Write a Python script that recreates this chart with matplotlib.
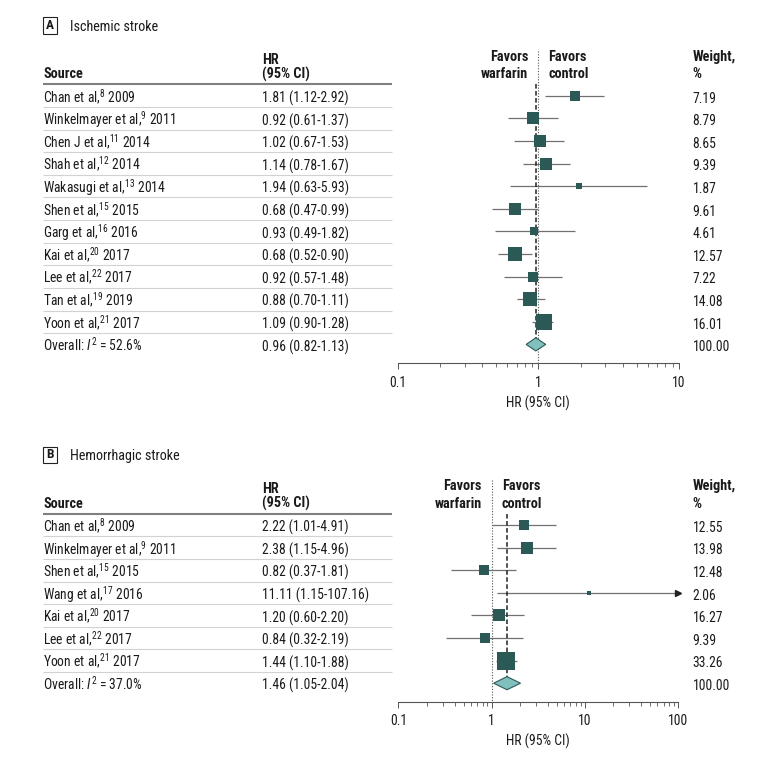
import matplotlib
matplotlib.use('Agg')
import matplotlib.pyplot as plt
import matplotlib.transforms as mtransforms
from matplotlib import font_manager as fm
from matplotlib.patches import Polygon, Rectangle
from matplotlib.ticker import LogLocator, NullFormatter
import numpy as np

names = {f.name for f in fm.fontManager.ttflist}
FONT = next((f for f in ['Roboto Condensed', 'Encode Sans Condensed', 'Liberation Sans'] if f in names),
            'DejaVu Sans')
plt.rcParams['font.family'] = [FONT, 'DejaVu Sans']
plt.rcParams['mathtext.fontset'] = 'custom'
plt.rcParams['mathtext.rm'] = FONT
plt.rcParams['mathtext.it'] = FONT + ':italic'

# ---- data: panel A, ischemic stroke ----
src_a = ['Chan et al,', 'Winkelmayer et al,', 'Chen J et al,', 'Shah et al,', 'Wakasugi et al,',
         'Shen et al,', 'Garg et al,', 'Kai et al,', 'Lee et al,', 'Tan et al,', 'Yoon et al,']
ref_a = [8, 9, 11, 12, 13, 15, 16, 20, 22, 19, 21]
year_a = [2009, 2011, 2014, 2014, 2014, 2015, 2016, 2017, 2017, 2019, 2017]
hr_a = [1.81, 0.92, 1.02, 1.14, 1.94, 0.68, 0.93, 0.68, 0.92, 0.88, 1.09]
lo_a = [1.12, 0.61, 0.67, 0.78, 0.63, 0.47, 0.49, 0.52, 0.57, 0.70, 0.90]
hi_a = [2.92, 1.37, 1.53, 1.67, 5.93, 0.99, 1.82, 0.90, 1.48, 1.11, 1.28]
wt_a = [7.19, 8.79, 8.65, 9.39, 1.87, 9.61, 4.61, 12.57, 7.22, 14.08, 16.01]
overall_a = [0.96, 0.82, 1.13]
i2_a = 52.6
total_a = 100.00
ticks_a = [0.1, 1, 10]
ticklabels_a = ['0.1', '1', '10']

# ---- data: panel B, hemorrhagic stroke ----
src_b = ['Chan et al,', 'Winkelmayer et al,', 'Shen et al,', 'Wang et al,', 'Kai et al,',
         'Lee et al,', 'Yoon et al,']
ref_b = [8, 9, 15, 17, 20, 22, 21]
year_b = [2009, 2011, 2015, 2016, 2017, 2017, 2017]
hr_b = [2.22, 2.38, 0.82, 11.11, 1.20, 0.84, 1.44]
lo_b = [1.01, 1.15, 0.37, 1.15, 0.60, 0.32, 1.10]
hi_b = [4.91, 4.96, 1.81, 107.16, 2.20, 2.19, 1.88]
wt_b = [12.55, 13.98, 12.48, 2.06, 16.27, 9.39, 33.26]
overall_b = [1.46, 1.05, 2.04]
i2_b = 37.0
total_b = 100.00
ticks_b = [0.1, 1, 10, 100]
ticklabels_b = ['0.1', '1', '10', '100']

W, H = 780, 757
ROW = 22.6
FS = 9.8       # row text
FSH = 10.3     # bold headers
TXT = '#1a1a1a'
SQ = '#2b5956'
DIA = '#80c0bd'
CI = '#707070'

fig = plt.figure(figsize=(W / 100, H / 100), dpi=100)


def px(x):
    return x / W


def panel(letter, title, src, ref, year, hr, lo, hi, wt, overall, i2, total,
          ticks, ticklabels, row0, xl, xr, k):
    n = len(hr) + 1
    top_v, bot_v = -2.47, n - 1 + 0.83
    ytop = row0 + top_v * ROW
    ybot = row0 + bot_v * ROW
    ax = fig.add_axes([px(xl), 1 - ybot / H, px(xr - xl), (ybot - ytop) / H])
    ax.set_xscale('log')
    ax.set_xlim(ticks[0], ticks[-1])
    ax.set_ylim(bot_v, top_v)
    ax.patch.set_alpha(0)
    for s in ['left', 'right', 'top']:
        ax.spines[s].set_visible(False)
    ax.spines['bottom'].set_color('#555555')
    ax.spines['bottom'].set_linewidth(0.8)
    ax.set_yticks([])
    ax.set_xticks(ticks)
    ax.set_xticklabels(ticklabels)
    ax.xaxis.set_minor_locator(LogLocator(base=10, subs=np.arange(2, 10)))
    ax.xaxis.set_minor_formatter(NullFormatter())
    ax.tick_params(axis='x', which='major', length=4, width=0.7, color='#555555',
                   labelsize=FS, labelcolor=TXT, pad=5)
    ax.tick_params(axis='x', which='minor', length=3, width=0.6, color='#555555')
    ax.set_xlabel('HR (95% CI)', fontsize=FS, color=TXT, labelpad=4)

    y = np.arange(len(hr))
    xmax = ticks[-1]
    hi_c = np.minimum(hi, xmax)
    ax.hlines(y, lo, hi_c, color=CI, lw=0.9, zorder=2)
    for yi, h in zip(y, hi):
        if h > xmax:
            ax.plot(xmax, yi, marker='>', ms=4, color='#222222', clip_on=False, zorder=3)
    for xi, yi, w in zip(hr, y, wt):
        ax.plot(xi, yi, marker='s', ms=k * np.sqrt(w) * 0.72, color=SQ, mew=0, zorder=4)

    est, olo, ohi = overall
    yo = n - 1
    hd = 0.29
    ax.add_patch(Polygon([[olo, yo], [est, yo - hd], [ohi, yo], [est, yo + hd]],
                         closed=True, fc=DIA, ec=SQ, lw=0.8, zorder=4))
    ax.vlines(est, -0.5, yo - hd, color='#222222', lw=1.1, linestyles=(0, (3, 1.6)), zorder=3)
    ax.vlines(1, -1.97, bot_v, color='#555555', lw=0.8, linestyles=(0, (1, 1.5)),
              clip_on=False, zorder=1)

    blend = mtransforms.blended_transform_factory(fig.transFigure, ax.transData)

    # panel label and title
    ax.add_patch(Rectangle((px(43), -3.1 - 0.37), px(14), 0.74, transform=blend,
                           fc='white', ec='#222222', lw=0.8, clip_on=False))
    ax.text(px(50), -3.1, letter, transform=blend, ha='center', va='center',
            fontsize=FS - 0.2, fontweight='bold', color=TXT)
    ax.text(px(70), -2.88, title, transform=blend, ha='left', va='baseline',
            fontsize=FS + 0.4, color=TXT)

    # headers
    hb = dict(transform=blend, va='baseline', fontsize=FSH, fontweight='bold', color=TXT)
    ax.text(px(43), -0.77, 'Source', ha='left', **hb)
    ax.text(px(262), -1.42, 'HR', ha='left', **hb)
    ax.text(px(262), -0.77, '(95% CI)', ha='left', **hb)
    ax.text(px(692.7), -1.55, 'Weight,', ha='left', **hb)
    ax.text(px(692.7), -0.77, '%', ha='left', **hb)
    fb = dict(xycoords='data', textcoords='offset pixels', va='baseline', fontsize=FSH,
              fontweight='bold', color=TXT, annotation_clip=False)
    ax.annotate('Favors', (1, -1.55), xytext=(-10, 0), ha='right', **fb)
    ax.annotate('warfarin', (1, -0.77), xytext=(-10, 0), ha='right', **fb)
    ax.annotate('Favors', (1, -1.55), xytext=(10, 0), ha='left', **fb)
    ax.annotate('control', (1, -0.77), xytext=(10, 0), ha='left', **fb)

    # rules
    ax.plot([px(43), px(392)], [-0.5, -0.5], transform=blend, color='#808080', lw=1.5,
            clip_on=False, solid_capstyle='butt')
    for i in range(n - 1):
        ax.plot([px(43), px(392)], [i + 0.5, i + 0.5], transform=blend, color='#d2d2d2',
                lw=0.8, clip_on=False, solid_capstyle='butt')

    # row texts
    rb = dict(transform=blend, va='baseline', ha='left', fontsize=FS, color=TXT)
    for i in range(len(hr)):
        ax.text(px(43), i + 0.3, f'{src[i]}$\\mathregular{{^{{{ref[i]}}}}}$ {year[i]}', **rb)
        ax.text(px(262), i + 0.3, f'{hr[i]:.2f} ({lo[i]:.2f}-{hi[i]:.2f})', **rb)
        ax.text(px(692.7), i + 0.3, f'{wt[i]:.2f}', **rb)
    ax.text(px(43), yo + 0.3, f'Overall: $\\mathit{{I}}^{{\\mathregular{{2}}}}$ = {i2:.1f}%', **rb)
    ax.text(px(262), yo + 0.3, f'{est:.2f} ({olo:.2f}-{ohi:.2f})', **rb)
    ax.text(px(692.7), yo + 0.3, f'{total:.2f}', **rb)
    return ax


panel('A', 'Ischemic stroke', src_a, ref_a, year_a, hr_a, lo_a, hi_a, wt_a, overall_a, i2_a, total_a,
      ticks_a, ticklabels_a, row0=95.8, xl=397.6, xr=679, k=3.9)
panel('B', 'Hemorrhagic stroke', src_b, ref_b, year_b, hr_b, lo_b, hi_b, wt_b, overall_b, i2_b, total_b,
      ticks_b, ticklabels_b, row0=525, xl=398.5, xr=678, k=3.1)

fig.savefig('out.png', dpi=100)
print('saved: out.png')
